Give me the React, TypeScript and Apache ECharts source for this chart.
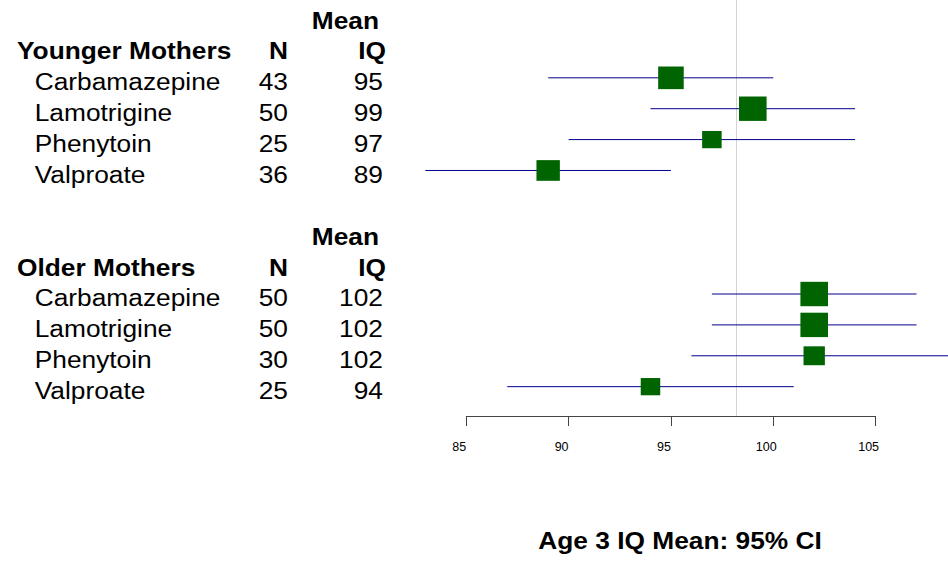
import React, { useEffect, useRef } from 'react';
import * as echarts from 'echarts';

// ---- data ----
const drugs = ['Carbamazepine', 'Lamotrigine', 'Phenytoin', 'Valproate'];
const groupTitles = ['Younger Mothers', 'Older Mothers'];
const youngerN = [43, 50, 25, 36];
const youngerMean = [95, 99, 97, 89];
const youngerLower = [89, 94, 90, 83];
const youngerUpper = [100, 104, 104, 95];
const olderN = [50, 50, 30, 25];
const olderMean = [102, 102, 102, 94];
const olderLower = [97, 97, 96, 87];
const olderUpper = [107, 107, 109, 101];
const referenceIQ = 98.2;
const xTicks = [85, 90, 95, 100, 105];
const colHeaderTop = 'Mean';
const colHeaderN = 'N';
const colHeaderIQ = 'IQ';
const axisTitle = 'Age 3 IQ Mean: 95% CI';

// ---- layout ----
const FONT = '"Liberation Sans", Arial, Helvetica, sans-serif';
const FS = 23.5;
const SX = 1.12;
const groupStartRow = [0, 7];

const groups = [
  { n: youngerN, mean: youngerMean, lo: youngerLower, hi: youngerUpper },
  { n: olderN, mean: olderMean, lo: olderLower, hi: olderUpper },
];

type Cell = { text: string; x: number; align: 'left' | 'right'; bold: boolean };
const textRows: { row: number; cells: Cell[] }[] = [];
const forestData: number[][] = [];

groups.forEach((g, gi) => {
  const s = groupStartRow[gi];
  textRows.push({ row: s - 2, cells: [{ text: colHeaderTop, x: 379, align: 'right', bold: true }] });
  textRows.push({
    row: s - 1,
    cells: [
      { text: groupTitles[gi], x: 17, align: 'left', bold: true },
      { text: colHeaderN, x: 288, align: 'right', bold: true },
      { text: colHeaderIQ, x: 386, align: 'right', bold: true },
    ],
  });
  drugs.forEach((d, i) => {
    textRows.push({
      row: s + i,
      cells: [
        { text: d, x: 34.7, align: 'left', bold: false },
        { text: String(g.n[i]), x: 288, align: 'right', bold: false },
        { text: String(g.mean[i]), x: 383, align: 'right', bold: false },
      ],
    });
    forestData.push([g.mean[i], g.lo[i], g.hi[i], s + i, g.n[i]]);
  });
});

export default function App() {
  const ref = useRef<HTMLDivElement>(null);
  useEffect(() => {
    document.body.style.margin = '0';
    const chart = echarts.init(ref.current!, undefined, { renderer: 'svg' });
    chart.setOption({
      animation: false,
      backgroundColor: '#fff',
      grid: { left: 466.3, right: 72.4, top: 0, bottom: 146 },
      xAxis: {
        type: 'value',
        position: 'bottom',
        min: xTicks[0],
        max: xTicks[xTicks.length - 1],
        interval: xTicks[1] - xTicks[0],
        axisLine: { show: true, onZero: false, lineStyle: { color: '#444', width: 1 } },
        axisTick: { show: true, length: 10, lineStyle: { color: '#444', width: 1 } },
        splitLine: { show: false },
        axisLabel: {
          fontSize: 12.5,
          fontFamily: FONT,
          color: '#000',
          margin: 31,
          verticalAlign: 'middle',
          padding: [0, 14, 0, 0],
        },
      },
      yAxis: { type: 'value', inverse: true, min: -2.52, max: 10.95, show: false },
      graphic: [
        {
          type: 'text',
          x: 680,
          y: 541,
          scaleX: SX,
          style: {
            text: axisTitle,
            fontSize: FS,
            fontWeight: 'bold',
            fontFamily: FONT,
            fill: '#000',
            align: 'center',
            verticalAlign: 'middle',
          },
        },
      ],
      series: [
        {
          type: 'custom',
          coordinateSystem: 'cartesian2d',
          data: forestData,
          encode: { x: 0, y: 3 },
          clip: false,
          z: 3,
          renderItem: (params: any, api: any) => {
            const mean = api.value(0);
            const lo = api.value(1);
            const hi = api.value(2);
            const row = api.value(3);
            const n = api.value(4);
            const c = api.coord([mean, row]);
            const l = api.coord([lo, row]);
            const h = api.coord([hi, row]);
            const bh = 3.45 * Math.sqrt(n);
            const bw = 3.9 * Math.sqrt(n);
            return {
              type: 'group',
              children: [
                {
                  type: 'line',
                  shape: { x1: l[0], y1: l[1], x2: h[0], y2: h[1] },
                  style: { stroke: '#00008B', lineWidth: 1 },
                },
                {
                  type: 'rect',
                  shape: { x: c[0] - bw / 2, y: c[1] - bh / 2, width: bw, height: bh },
                  style: { fill: '#006400' },
                },
              ],
            };
          },
          markLine: {
            silent: true,
            symbol: ['none', 'none'],
            label: { show: false },
            lineStyle: { color: '#d3d3d3', width: 1, type: 'solid' },
            data: [{ xAxis: referenceIQ }],
            z: 1,
          },
        },
        {
          type: 'custom',
          coordinateSystem: 'cartesian2d',
          data: textRows.map((r) => [xTicks[0], r.row]),
          encode: { x: 0, y: 1 },
          clip: false,
          renderItem: (params: any, api: any) => {
            const r = textRows[params.dataIndex];
            const y = api.coord([xTicks[0], r.row])[1] + 4;
            return {
              type: 'group',
              children: r.cells.map((cell) => ({
                type: 'text',
                x: cell.x,
                y,
                scaleX: SX,
                style: {
                  text: cell.text,
                  fontSize: FS,
                  fontWeight: cell.bold ? 'bold' : 'normal',
                  fontFamily: FONT,
                  fill: '#000',
                  align: cell.align,
                  verticalAlign: 'middle',
                },
              })),
            };
          },
        },
      ],
    });
    return () => chart.dispose();
  }, []);
  return <div ref={ref} style={{ width: 948, height: 562 }} />;
}
